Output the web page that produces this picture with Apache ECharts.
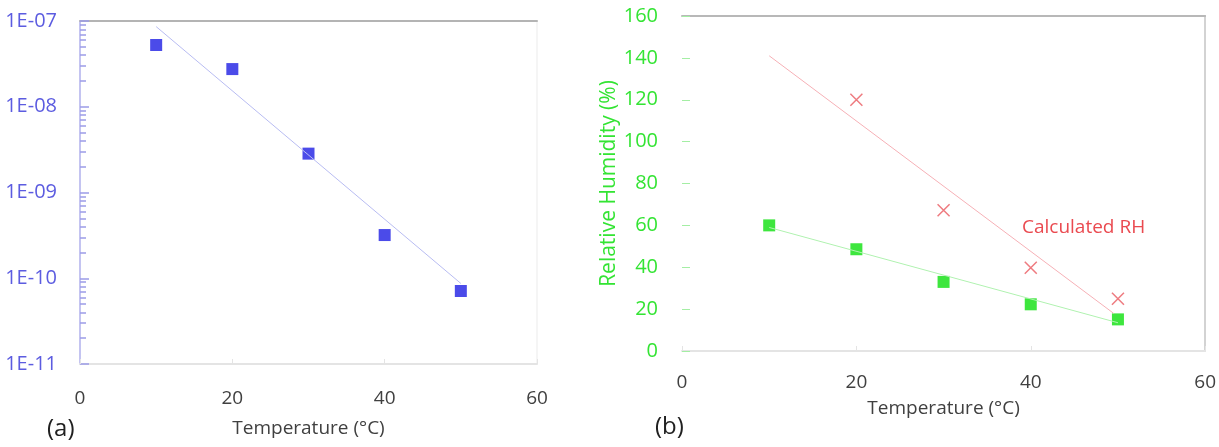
<!DOCTYPE html>
<html>
<head>
<meta charset="utf-8">
<script src="https://cdn.jsdelivr.net/npm/echarts@6/dist/echarts.min.js"></script>
<style>
  html, body { margin: 0; padding: 0; background: #fff; }
  #chart { width: 1219px; height: 447px; }
</style>
</head>
<body>
<div id="chart"></div>
<script>
// panel (a): value vs temperature, log scale
const tempA = [10, 20, 30, 40, 50]
const valueA = [5.25e-8, 2.75e-8, 2.84e-9, 3.19e-10, 7.1e-11]
const fitTempA = [10, 50]
const fitValueA = [8.6e-8, 8.7e-11]
const logTicksA = ['1E-11', '1E-10', '1E-09', '1E-08', '1E-07']
const decadesA = [1e-11, 1e-10, 1e-9, 1e-8]
const minorStepsA = [2, 3, 4, 5, 6, 7, 8, 9]

// panel (b): relative humidity
const tempB = [10, 20, 30, 40, 50]
const rhMeasured = [60, 48.6, 33, 22.3, 15.1]
const fitTempMeasured = [10, 50]
const fitRhMeasured = [59, 13.5]
const tempCalc = [20, 30, 40, 50]
const rhCalc = [120, 67.2, 39.8, 25]
const fitTempCalc = [10, 49.5]
const fitRhCalc = [141, 18]

const font = '"Open Sans", Lato, sans-serif'
const zip = (xs, ys) => xs.map((x, i) => [x, ys[i]])
const crossPath = 'path://M0,0L10,10M10,0L0,10'

// minor tick positions of the log axis (2..9 in every decade), as exponents
const minorTicksA = []
decadesA.forEach(d => minorStepsA.forEach(m => minorTicksA.push(Math.log10(d * m))))

const chart = echarts.init(document.getElementById('chart'))

function xAxisBase(gridIndex, margin, nameGap) {
  return {
    gridIndex: gridIndex,
    type: 'value',
    min: 0,
    max: 60,
    interval: 20,
    name: 'Temperature (°C)',
    nameLocation: 'middle',
    nameGap: nameGap,
    nameTextStyle: { color: '#404040', fontSize: 19, fontFamily: font },
    axisLine: { show: true, lineStyle: { color: '#e4e4e4', width: 2 } },
    axisTick: { show: true, inside: true, length: 5, lineStyle: { color: '#e4e4e4' } },
    axisLabel: { color: '#404040', fontSize: 19, fontFamily: font, margin: margin },
    splitLine: { show: false }
  }
}

function borderAxis(gridIndex, position, color, width) {
  return {
    gridIndex: gridIndex,
    type: 'value',
    position: position,
    min: 0,
    max: 1,
    axisLine: { show: true, onZero: false, lineStyle: { color: color, width: width } },
    axisTick: { show: false },
    axisLabel: { show: false },
    splitLine: { show: false }
  }
}

chart.setOption({
  animation: false,
  grid: [
    { left: 80, right: 682, top: 21, bottom: 83 },
    { left: 682, right: 13, top: 16, bottom: 96 }
  ],
  xAxis: [
    xAxisBase(0, 25, 55),
    xAxisBase(1, 22, 48),
    borderAxis(0, 'top', '#b4b4b4', 2),
    borderAxis(1, 'top', '#b8b8b8', 2)
  ],
  yAxis: [
    {
      gridIndex: 0,
      type: 'log',
      logBase: 10,
      min: 1e-11,
      max: 1e-7,
      axisLine: { show: true, onZero: false, lineStyle: { color: '#c0c0f0', width: 1.5 } },
      axisTick: { show: true, inside: true, length: 9, lineStyle: { color: '#9c9ce8', width: 1.5 } },
      axisLabel: {
        color: '#5c5ce0',
        fontSize: 20,
        fontFamily: font,
        margin: 23,
        formatter: function(v) {
          const e = Math.round(Math.log10(v))
          return logTicksA[e + 11]
        }
      },
      splitLine: { show: false }
    },
    {
      gridIndex: 1,
      type: 'value',
      min: 0,
      max: 160,
      interval: 20,
      name: 'Relative Humidity (%)',
      nameLocation: 'middle',
      nameGap: 60,
      nameTextStyle: { color: '#33e433', fontSize: 21, fontFamily: font },
      axisLine: { show: false },
      axisTick: { show: true, inside: true, length: 8, lineStyle: { color: '#a4eea4' } },
      axisLabel: { color: '#33e433', fontSize: 20, fontFamily: font, margin: 24 },
      splitLine: { show: false }
    },
    borderAxis(1, 'right', '#c4c4c4', 1.5),
    {
      // minor ticks of the log axis, on an exponent scale matching it
      gridIndex: 0,
      type: 'value',
      min: -11,
      max: -7,
      position: 'left',
      axisLine: { show: true, onZero: false, lineStyle: { color: '#c0c0f0', width: 1.5 } },
      axisTick: {
        show: true,
        inside: true,
        length: 6,
        customValues: minorTicksA,
        lineStyle: { color: '#9c9ce8', width: 1.5 }
      },
      axisLabel: { show: false },
      splitLine: { show: false }
    },
    borderAxis(0, 'right', '#f2f2f2', 1.5)
  ],
  series: [
    {
      type: 'line',
      xAxisIndex: 0,
      yAxisIndex: 0,
      data: zip(fitTempA, fitValueA),
      showSymbol: false,
      lineStyle: { color: '#b8bcf2', width: 1 }
    },
    {
      type: 'scatter',
      xAxisIndex: 0,
      yAxisIndex: 0,
      data: zip(tempA, valueA),
      symbol: 'rect',
      symbolSize: 12,
      itemStyle: { color: '#1e1ee4' }
    },
    {
      type: 'line',
      xAxisIndex: 1,
      yAxisIndex: 1,
      data: zip(fitTempCalc, fitRhCalc),
      showSymbol: false,
      lineStyle: { color: '#f6b0b6', width: 1 }
    },
    {
      type: 'line',
      xAxisIndex: 1,
      yAxisIndex: 1,
      data: zip(fitTempMeasured, fitRhMeasured),
      showSymbol: false,
      lineStyle: { color: '#b0f2b0', width: 1 }
    },
    {
      type: 'scatter',
      xAxisIndex: 1,
      yAxisIndex: 1,
      data: zip(tempB, rhMeasured),
      symbol: 'rect',
      symbolSize: 12,
      itemStyle: { color: '#0ee00e' }
    },
    {
      type: 'scatter',
      xAxisIndex: 1,
      yAxisIndex: 1,
      data: zip(tempCalc, rhCalc),
      symbol: crossPath,
      symbolSize: 12,
      itemStyle: { color: 'transparent', borderColor: '#ea5a60', borderWidth: 1.5 }
    }
  ],
  graphic: [
    {
      type: 'text',
      left: 1022,
      top: 218,
      style: { text: 'Calculated RH', fill: '#ea4a50', font: '19px ' + font }
    },
    {
      type: 'text',
      left: 47,
      top: 417,
      style: { text: '(a)', fill: '#202020', font: '24px ' + font }
    },
    {
      type: 'text',
      left: 655,
      top: 415,
      style: { text: '(b)', fill: '#202020', font: '24px ' + font }
    }
  ]
})
</script>
</body>
</html>
